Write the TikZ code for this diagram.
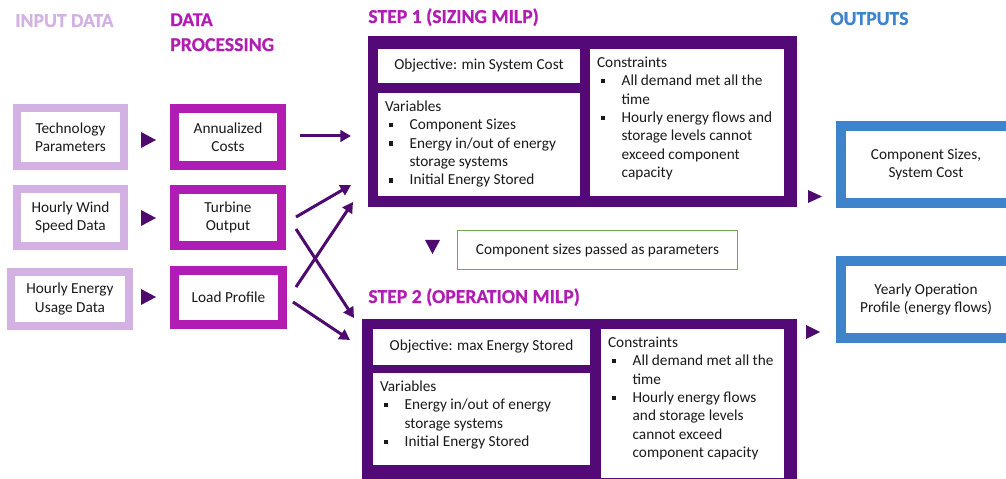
\documentclass[tikz,border=0pt]{standalone}
\usepackage{fontspec}
\setmainfont{Carlito}[BoldFont={Carlito Bold}, BoldFeatures={FakeBold=0.6}]
\usetikzlibrary{arrows.meta,calc}

\definecolor{inlilac}{HTML}{D3B1E2}
\definecolor{procmag}{HTML}{B11DB3}
\definecolor{milpviolet}{HTML}{540A76}
\definecolor{arrviolet}{HTML}{4E0A6E}
\definecolor{outblue}{HTML}{3E84CC}
\definecolor{passgreen}{HTML}{6FAA4C}
\definecolor{txtgray}{HTML}{1A1A1A}

\newcommand{\bodyfont}{\fontsize{8.7}{10.5}\selectfont}
\newcommand{\headfont}{\fontsize{11.2}{14.2}\selectfont\bfseries}
\newcommand{\sq}{\hspace*{2.3pt}\rule[1.4pt]{2.4pt}{2.4pt}}

\tikzset{
  inbox/.style={draw=inlilac, line width=0.16cm, fill=white, inner sep=0pt, align=center, font=\bodyfont, text=txtgray},
  procbox/.style={draw=procmag, line width=0.18cm, fill=white, inner sep=0pt, align=center, font=\bodyfont, text=txtgray},
  outbox/.style={draw=outblue, line width=0.2cm, fill=white, inner sep=0pt, align=center, font=\bodyfont, text=txtgray},
  milp/.style={fill=milpviolet, inner sep=0pt},
  panel/.style={fill=white, inner sep=0pt, font=\bodyfont, text=txtgray},
  paneltext/.style={anchor=north west, inner xsep=4pt, inner ysep=3pt, font=\bodyfont, text=txtgray, align=left},
  head/.style={anchor=base west, inner sep=0pt, font=\headfont},
  flow/.style={-{Triangle[length=6pt,width=6.5pt]}, line width=0.06cm, arrviolet},
  marker/.style={fill=arrviolet}
}

\begin{document}
\begin{tikzpicture}[x=0.02cm, y=-0.02cm]
    \useasboundingbox (0,0) rectangle (1006,479);
    \clip (0,0) rectangle (1006,479);
    % column headings
        \node[head, text=inlilac] (hin) at (15,27) {INPUT DATA};
        \node[head, text=procmag, anchor=north west, align=left] (hproc) at (170,13) {DATA\\PROCESSING};
        \node[head, text=procmag] (hstepa) at (368,23) {STEP 1 (SIZING MILP)};
        \node[head, text=procmag] (hstepb) at (368,303) {STEP 2 (OPERATION MILP)};
        \node[head, text=outblue] (hout) at (830,25) {OUTPUTS};
    % input data
        \node[inbox, minimum width=2.14cm, minimum height=1.16cm] (tech) at (70.5,137) {Technology\\Parameters};
        \node[inbox, minimum width=2.14cm, minimum height=1.14cm] (wind) at (70.5,217.5) {Hourly Wind\\Speed Data};
        \node[inbox, minimum width=2.36cm, minimum height=1.08cm] (usage) at (70,299) {Hourly Energy\\Usage Data};
    % data processing
        \node[procbox, minimum width=2.14cm, minimum height=1.14cm] (annual) at (228,137) {Annualized\\Costs};
        \node[procbox, minimum width=2.14cm, minimum height=1.12cm] (turbine) at (228,217.5) {Turbine\\Output};
        \node[procbox, minimum width=2.16cm, minimum height=1.08cm] (load) at (228.5,297.5) {Load Profile};
        \foreach \ty in {140,218,297}
            \fill[marker] (141,\ty-8) -- (156,\ty) -- (141,\ty+8) -- cycle;
    % step 1
        \node[milp, minimum width=8.58cm, minimum height=3.42cm] (stepa) at (582.5,121.5) {};
        \node[panel, minimum width=4.04cm, minimum height=0.68cm] (obja) at (479,66) {Objective: min System Cost};
        \node[panel, minimum width=4.04cm, minimum height=2.06cm] (vara) at (479,144.5) {};
        \node[panel, minimum width=3.88cm, minimum height=2.94cm] (cona) at (687,122.5) {};
        \node[paneltext] (varatext) at (vara.north west) {%
            \begin{tabular}{@{}p{14pt}@{}l@{}}
            \multicolumn{2}{@{}l}{Variables}\\
            \sq & Component Sizes\\
            \sq & Energy in/out of energy\\
                & storage systems\\
            \sq & Initial Energy Stored
            \end{tabular}};
        \node[paneltext] (conatext) at (cona.north west) {%
            \begin{tabular}{@{}p{14pt}@{}l@{}}
            \multicolumn{2}{@{}l}{Constraints}\\
            \sq & All demand met all the\\
                & time\\
            \sq & Hourly energy flows and\\
                & storage levels cannot\\
                & exceed component\\
                & capacity
            \end{tabular}};
    % hand over between the steps
        \fill[marker] (425,240) -- (440,240) -- (432.5,254) -- cycle;
        \node[draw=passgreen, line width=0.03cm, fill=white, minimum width=5.6cm, minimum height=0.78cm, font=\bodyfont, text=txtgray] (pass) at (597.5,250) {Component sizes passed as parameters};
    % step 2
        \node[milp, minimum width=8.70cm, minimum height=3.32cm] (stepb) at (579.5,402) {};
        \node[panel, minimum width=4.34cm, minimum height=0.72cm] (objb) at (481.5,347) {Objective: max Energy Stored};
        \node[panel, minimum width=4.34cm, minimum height=1.84cm] (varb) at (481.5,419) {};
        \node[panel, minimum width=3.66cm, minimum height=2.98cm] (conb) at (692.5,403.5) {};
        \node[paneltext] (varbtext) at (varb.north west) {%
            \begin{tabular}{@{}p{14pt}@{}l@{}}
            \multicolumn{2}{@{}l}{Variables}\\
            \sq & Energy in/out of energy\\
                & storage systems\\
            \sq & Initial Energy Stored
            \end{tabular}};
        \node[paneltext] (conbtext) at (conb.north west) {%
            \begin{tabular}{@{}p{14pt}@{}l@{}}
            \multicolumn{2}{@{}l}{Constraints}\\
            \sq & All demand met all the\\
                & time\\
            \sq & Hourly energy flows\\
                & and storage levels\\
                & cannot exceed\\
                & component capacity
            \end{tabular}};
    % outputs
        \node[outbox, minimum width=3.4cm, minimum height=1.54cm] (sizes) at (926,164.5) {Component Sizes,\\System Cost};
        \node[outbox, minimum width=3.4cm, minimum height=1.54cm] (profile) at (926,299.5) {Yearly Operation\\Profile (energy flows)};
        \fill[marker] (808,190) -- (822,196.5) -- (808,203) -- cycle;
        \fill[marker] (806,325) -- (820,332) -- (806,339) -- cycle;
    % processed data into the two MILPs
        \coordinate (ina) at (351,136);
        \coordinate (inb) at (351,185);
        \coordinate (inc) at (353,202);
        \coordinate (ind) at (354,318);
        \coordinate (ine) at (350,340);
        \draw[flow] ($(annual.east)+(14,-1)$) -- (ina);
        \draw[flow] ($(turbine.east)+(10,-0.5)$) -- (inb);
        \draw[flow] ($(turbine.east)+(10,11.5)$) -- (ind);
        \draw[flow] ($(load.east)+(9,-10.5)$) -- (inc);
        \draw[flow] ($(load.east)+(6,4.5)$) -- (ine);
\end{tikzpicture}
\end{document}
